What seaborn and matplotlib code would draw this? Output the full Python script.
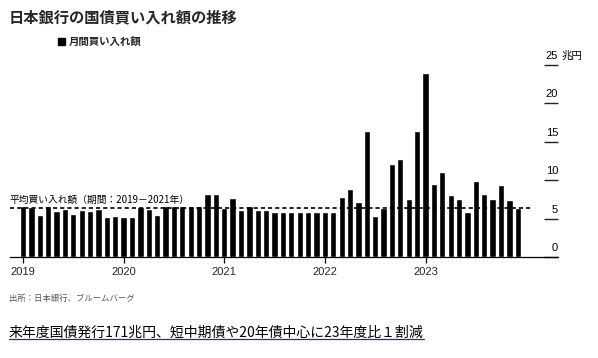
import pandas as pd
import matplotlib
import matplotlib.pyplot as plt
import matplotlib.transforms as mtransforms
from matplotlib.lines import Line2D
from matplotlib.patches import Rectangle
import seaborn as sns

# monthly purchase amounts (trillion yen), Jan 2019 - Dec 2023
years = ['2019', '2020', '2021', '2022', '2023']
values_2019 = [6.6, 6.5, 5.5, 6.6, 6.0, 6.2, 5.6, 6.1, 6.0, 6.2, 5.2, 5.3]
values_2020 = [5.2, 5.2, 6.5, 6.2, 5.5, 6.6, 6.6, 6.6, 6.6, 6.6, 8.2, 8.2]
values_2021 = [6.4, 7.7, 6.1, 6.6, 6.1, 6.1, 5.8, 5.8, 5.8, 5.8, 5.8, 5.8]
values_2022 = [5.8, 5.8, 7.8, 8.8, 7.1, 16.4, 5.4, 6.4, 12.1, 12.7, 7.6, 16.4]
values_2023 = [23.9, 9.5, 11.1, 8.1, 7.5, 5.9, 9.9, 8.2, 7.6, 9.4, 7.4, 6.4]
avg_level = 6.4
y_ticks = [0, 5, 10, 15, 20, 25]

title = '日本銀行の国債買い入れ額の推移'
legend_label = '月間買い入れ額'
avg_label = '平均買い入れ額（期間：2019－2021年）'
unit_label = '兆円'
source = '出所：日本銀行、ブルームバーグ'
headline = '来年度国債発行171兆円、短中期債や20年債中心に23年度比１割減'

all_values = values_2019 + values_2020 + values_2021 + values_2022 + values_2023
months = [f'{y}-{m:02d}' for y in years for m in range(1, 13)]
df = pd.DataFrame({'month': months, 'value': all_values})

sns.set_style('white')
plt.rcParams['font.family'] = ['Liberation Sans', 'Noto Sans CJK JP', 'DejaVu Sans']
cjk = ['Noto Sans CJK JP', 'DejaVu Sans']

fig = plt.figure(figsize=(5.98, 3.58), dpi=100)
ax = fig.add_axes([10 / 598, 101 / 358, 548 / 598, 192 / 358])

sns.barplot(data=df, x='month', y='value', order=months, color='black',
            saturation=1, width=0.75, ax=ax)

ax.set_xlim(-1.55, 63.8)
ax.set_ylim(0, 25)
ax.set_xlabel('')
ax.set_ylabel('')

# average line
ax.plot([-1.55, 60.8], [avg_level, avg_level], color='black', lw=1.2,
        linestyle=(0, (2.5, 1.8)), clip_on=False)
off_up = mtransforms.offset_copy(ax.transData, fig=fig, x=0, y=3, units='dots')
ax.text(-1.55, avg_level, avg_label, transform=off_up, fontsize=7,
        family=cjk, ha='left', va='bottom', color='black')

# spines
for s in ['top', 'left', 'right']:
    ax.spines[s].set_visible(False)
ax.spines['bottom'].set_color('black')
ax.spines['bottom'].set_linewidth(0.9)

# x ticks at each January
ax.set_xticks([i * 12 for i in range(len(years))])
ax.set_xticklabels(years)
ax.tick_params(axis='x', direction='out', length=4, width=0.9, color='black',
               labelsize=8, pad=3, bottom=True)

# y ticks: short lines on the right, labels sitting above them
ax.set_yticks(y_ticks)
ax.tick_params(axis='y', left=False, right=True, direction='in', length=10,
               width=1, color='#222222', labelleft=False, labelright=False)
lab_tr = mtransforms.offset_copy(ax.get_yaxis_transform(), fig=fig, x=0, y=4, units='dots')
for v in y_ticks:
    ax.text(1.0, v, str(v), transform=lab_tr, ha='right', va='bottom',
            fontsize=8, color='black', clip_on=False)
unit_tr = mtransforms.offset_copy(ax.get_yaxis_transform(), fig=fig, x=4, y=4, units='dots')
ax.text(1.0, y_ticks[-1], unit_label, transform=unit_tr, ha='left', va='bottom',
        fontsize=7.5, family=cjk, color='black', clip_on=False)

# title and legend
fig.text(9 / 598, 1 - 17 / 358, title, fontsize=11, fontweight='bold',
         family=cjk, ha='left', va='center')
fig.add_artist(Rectangle((58 / 598, 1 - 45 / 358), 7 / 598, 7 / 358,
                         transform=fig.transFigure, color='black'))
fig.text(69 / 598, 1 - 41.5 / 358, legend_label, fontsize=7.5, fontweight='bold',
         family=cjk, ha='left', va='center')

# source and headline
fig.text(9 / 598, 1 - 298 / 358, source, fontsize=6, family=cjk,
         color='#555555', ha='left', va='center')
head = fig.text(9 / 598, 1 - 333 / 358, headline, fontsize=10, family=cjk,
                color='black', ha='left', va='center')

fig.canvas.draw()
bb = head.get_window_extent()
fig.add_artist(Line2D([bb.x0, bb.x1], [bb.y0 + 1, bb.y0 + 1], transform=None,
                      color='#2b2b8c', lw=0.9))

fig.savefig('out.png', dpi=100)
